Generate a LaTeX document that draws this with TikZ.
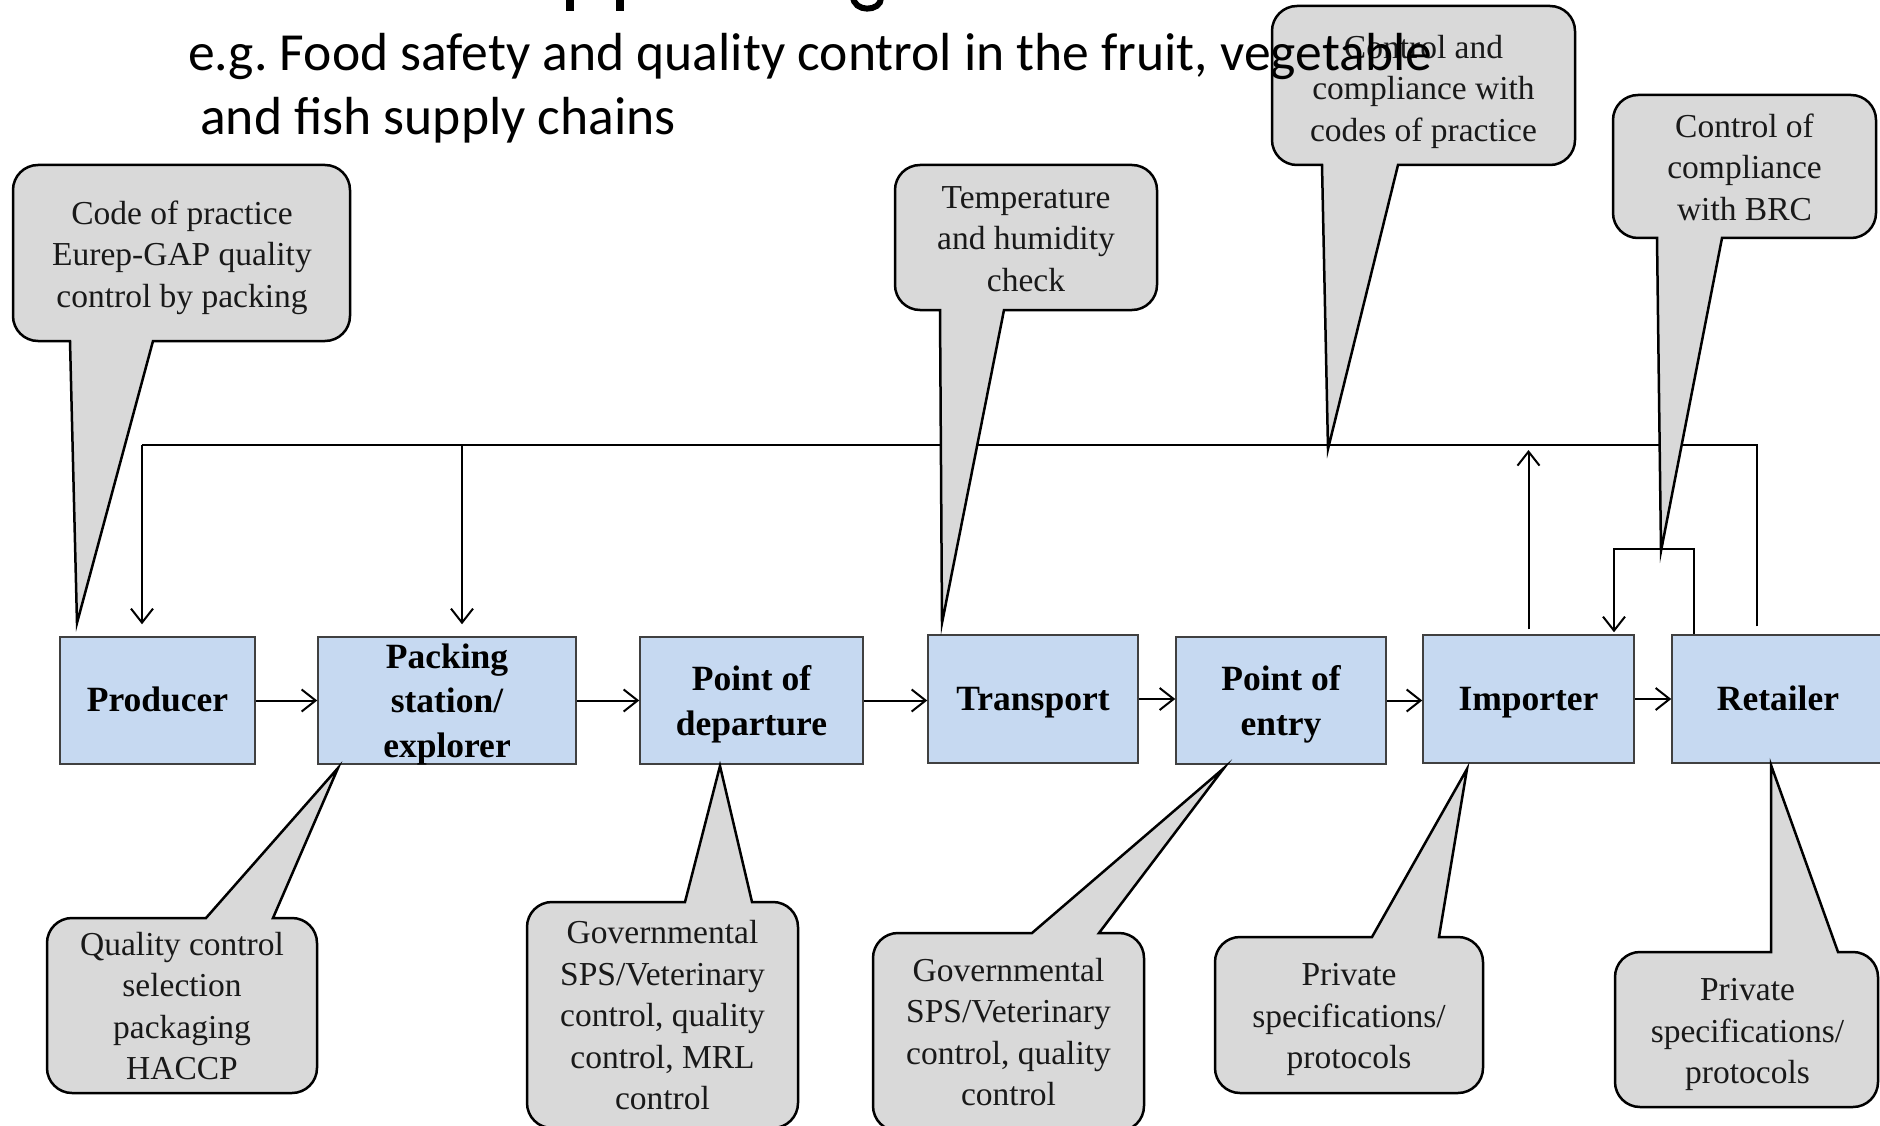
\documentclass[tikz,border=0pt]{standalone}
\usepackage{fontspec}
\setmainfont{Liberation Serif}
\newfontfamily\titlefont{Carlito}
\usetikzlibrary{arrows.meta}
\definecolor{boxblue}{HTML}{C6D9F1}
\definecolor{callgray}{HTML}{D9D9D9}
\definecolor{boxline}{HTML}{404040}
\tikzset{
  flowbox/.style={draw=boxline, line width=1.5pt, fill=boxblue, inner sep=0pt, align=center,
    text depth=0pt, font=\fontsize{35.5}{44.5}\selectfont\bfseries},
  oneline/.style={text height=22pt, text depth=0pt},
  conn/.style={line width=2pt, draw=black},
  arr/.style={conn, -{Straight Barb[length=14pt,width=22pt,line width=2pt]}},
  callshape/.style={draw=black, line width=2.5pt, fill=callgray, line join=miter},
  calltext/.style={align=center, inner sep=0pt, text=black!90, text depth=0pt,
    font=\fontsize{33.5}{41.5}\selectfont},
  titletext/.style={font=\titlefont\fontsize{53.6}{64}\selectfont, inner sep=0pt, anchor=base west},
}
% callout with pointer leaving the bottom edge: x1 y1 x2 y2 p1 p2 tip
\newcommand\clbottom[7]{%
  \path[callshape] (#6,#4) -- ({#3-25},#4) arc[start angle=90,end angle=0,radius=25]
    -- (#3,{#2+25}) arc[start angle=0,end angle=-90,radius=25]
    -- ({#1+25},#2) arc[start angle=-90,end angle=-180,radius=25]
    -- (#1,{#4-25}) arc[start angle=180,end angle=90,radius=25]
    -- (#5,#4) -- #7 -- cycle;}
% callout with pointer leaving the top edge: x1 y1 x2 y2 p1 p2 tip
\newcommand\cltop[7]{%
  \path[callshape] (#5,#2) -- ({#1+25},#2) arc[start angle=-90,end angle=-180,radius=25]
    -- (#1,{#4-25}) arc[start angle=180,end angle=90,radius=25]
    -- ({#3-25},#4) arc[start angle=90,end angle=0,radius=25]
    -- (#3,{#2+25}) arc[start angle=0,end angle=-90,radius=25]
    -- (#6,#2) -- #7 -- cycle;}
\begin{document}
\begin{tikzpicture}[x=1pt,y=-1pt]
\useasboundingbox (0,0) rectangle (1880,1126);
\clip (0,0) rectangle (1880,1126);

% chain boxes
\node[flowbox, oneline, minimum width=195pt, minimum height=127pt] (prod)  at (157.5,700.5) {Producer};
\node[flowbox, minimum width=258pt, minimum height=127pt] (pack)  at (447,700.5) {Packing\\station/\\explorer};
\node[flowbox, minimum width=223pt, minimum height=127pt] (dep)   at (751.5,700.5) {Point of\\departure};
\node[flowbox, oneline, minimum width=210pt, minimum height=128pt] (trans) at (1033,699) {Transport};
\node[flowbox, minimum width=210pt, minimum height=127pt] (entry) at (1281,700.5) {Point of\\entry};
\node[flowbox, oneline, minimum width=211pt, minimum height=128pt] (imp)   at (1528.5,699) {Importer};
\node[flowbox, oneline, minimum width=212pt, minimum height=128pt] (ret)   at (1778,699) {Retailer};

% flow arrows
\draw[arr] (prod.east) -- (prod.east -| pack.west);
\draw[arr] (pack.east) -- (pack.east -| dep.west);
\draw[arr] (dep.east) -- (dep.east -| trans.west);
\draw[arr] (trans.east) -- (trans.east -| entry.west);
\draw[arr] (entry.east) -- (entry.east -| imp.west);
\draw[arr] (imp.east) -- (imp.east -| ret.west);

% feedback lines
\coordinate (L0) at (142,445);
\coordinate (L1) at (462,445);
\coordinate (LR) at (1757,445);
\coordinate (B1) at (1694,549);
\coordinate (B0) at (1614,549);
\draw[conn] ([yshift=8pt]ret.north -| LR) -- (LR) -- (L0);
\draw[arr] (L0) -- ([yshift=12pt]prod.north -| L0);
\draw[arr] (L1) -- ([yshift=12pt]pack.north -| L1);
\draw[arr] ([yshift=5pt]imp.north) -- ([yshift=-5pt]imp.north |- LR);
\draw[arr] (ret.north -| B1) -- (B1) -- (B0) -- ([yshift=2pt]imp.north -| B0);

% callout tips
\coordinate (t1) at (77,623);
\coordinate (t2) at (942,623);
\coordinate (t3) at (1328,449);
\coordinate (t4) at (1661,551);
\coordinate (t5) at (338,768);
\coordinate (t6) at (720,766);
\coordinate (t7) at (1224,768);
\coordinate (t8) at (1467,769);
\coordinate (t9) at (1771,765);

% callouts above
\clbottom{13}{165}{350}{341}{70}{153}{(t1)}
\node[calltext] (c1) at (182,254) {Code of practice\\Eurep-GAP quality\\control by packing};
\clbottom{895}{165}{1157}{310}{940}{1004}{(t2)}
\node[calltext] (c2) at (1026,239) {Temperature\\and humidity\\check};
\clbottom{1272}{6}{1575}{165}{1322}{1398}{(t3)}
\node[calltext] (c3) at (1423.5,88) {Control and\\compliance with\\codes of practice};
\clbottom{1613}{95}{1876}{238}{1657}{1722}{(t4)}
\node[calltext] (c4) at (1744.5,167) {Control of\\compliance\\with BRC};

% callouts below
\cltop{47}{918}{317}{1093}{206}{273}{(t5)}
\node[calltext] (c5) at (182,1006) {Quality control\\selection\\packaging\\HACCP};
\cltop{527}{902}{798}{1128}{685}{752}{(t6)}
\node[calltext] (c6) at (662.5,1015) {Governmental\\SPS/Veterinary\\control, quality\\control, MRL\\control};
\cltop{873}{933}{1144}{1131}{1032}{1099}{(t7)}
\node[calltext] (c7) at (1008.5,1032) {Governmental\\SPS/Veterinary\\control, quality\\control};
\cltop{1215}{937}{1483}{1093}{1372}{1439}{(t8)}
\node[calltext] (c8) at (1349,1016) {Private\\specifications/\\protocols};
\cltop{1615}{952}{1878}{1107}{1771}{1838}{(t9)}
\node[calltext] (c9) at (1747.5,1031) {Private\\specifications/\\protocols};

% cut-off heading fragments
\fill (566,-2) rectangle (574,11);
\fill (616,-2) rectangle (624,11);
\draw[line width=6pt] (853,-4) .. controls (853,13) and (881,12) .. (881,-2);

% heading
\node[titletext] (title1) at (188,70.5) {e.g.\ Food safety and quality control in the fruit, vegetable};
\node[titletext] (title2) at (200,134.5) {and fish supply chains};
\end{tikzpicture}
\end{document}
